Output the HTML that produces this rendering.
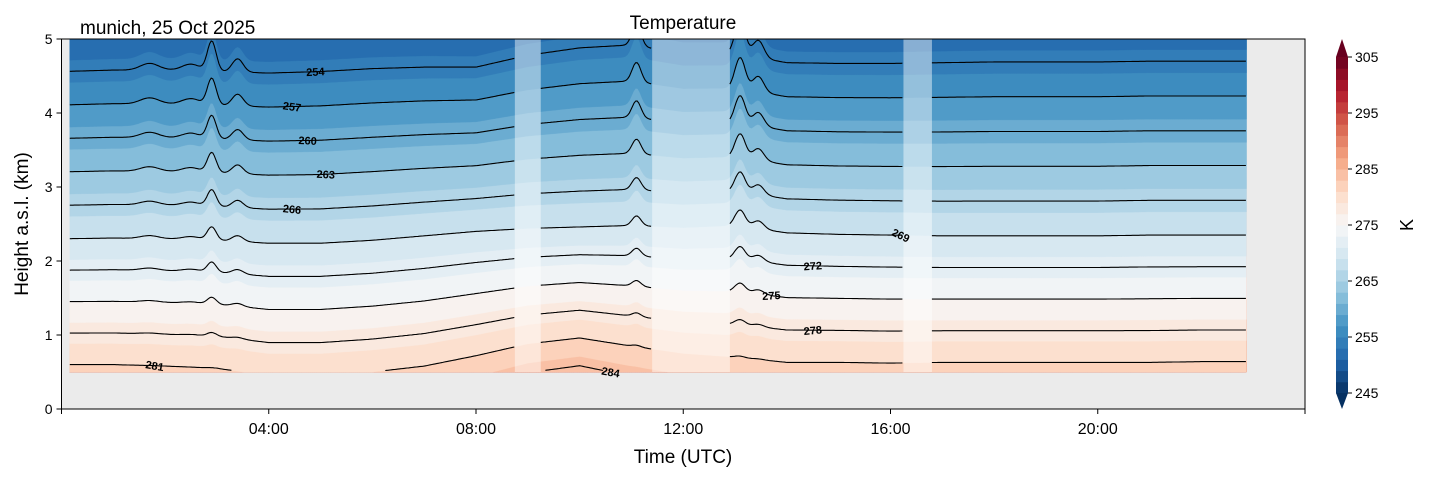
<!DOCTYPE html>
<html><head><meta charset="utf-8">
<style>
body{margin:0;background:#fff;}
svg text{font-family:"Liberation Sans","DejaVu Sans",sans-serif;}
</style></head>
<body>
<svg id="chart" width="1429" height="478" viewBox="0 0 1429 478" xmlns="http://www.w3.org/2000/svg">
<defs><clipPath id="plotclip"><rect x="61.5" y="39" width="1243.5" height="370"/></clipPath></defs>
<rect x="61.5" y="39" width="1243.5" height="370" fill="#ebebeb"/>
<g id="bands" clip-path="url(#plotclip)"></g>
<g id="gaps"></g>
<g id="lines" clip-path="url(#plotclip)" fill="none" stroke="#000" stroke-width="1.1"></g>
<g id="clabels" font-size="11" font-weight="bold" fill="#000"></g>
<rect x="61.5" y="39" width="1243.5" height="370" fill="none" stroke="#000" stroke-width="1"/>
<g id="xaxis" font-size="16"></g>
<g id="yaxis" font-size="14"></g>
<text x="683" y="29" font-size="19" text-anchor="middle">Temperature</text>
<text x="80" y="34" font-size="19">munich, 25 Oct 2025</text>
<text x="683" y="463" font-size="19" text-anchor="middle">Time (UTC)</text>
<text x="28" y="224" font-size="19" text-anchor="middle" transform="rotate(-90 28 224)">Height a.s.l. (km)</text>
<g id="cbar" font-size="14"></g>
<text x="1413" y="225" font-size="18" text-anchor="middle" transform="rotate(-90 1413 225)">K</text>
</svg>
<script>
// ---- data ----
const hours = [0,1,2,3,4,5,6,7,8,9,10,11,12,13,14,15,16,17,18,19,20,21,22,23];
const h281 = [0.6,0.6,0.58,0.55,0.45,0.45,0.5,0.58,0.72,0.88,0.96,0.85,0.75,0.7,0.63,0.63,0.62,0.63,0.63,0.63,0.63,0.63,0.64,0.64];
const h269 = [2.3,2.31,2.3,2.28,2.24,2.24,2.28,2.34,2.4,2.44,2.46,2.48,2.45,2.48,2.38,2.36,2.35,2.34,2.34,2.34,2.34,2.35,2.35,2.35];
const h254 = [4.56,4.58,4.58,4.56,4.54,4.56,4.6,4.62,4.62,4.78,4.88,4.92,4.8,4.8,4.68,4.67,4.67,4.68,4.69,4.69,4.69,4.7,4.7,4.7];
const spikeTimes = [2.9,3.4,11.1,13.1,13.45,1.7,2.5];
const spikeAmps = [0.45,0.2,0.3,0.5,0.25,0.1,0.1];
const spikeWidths = [0.12,0.15,0.12,0.14,0.15,0.25,0.25];
const gapStarts = [8.75,11.4,16.25];
const gapEnds = [9.25,12.9,16.8];
const contourLevels = [251,254,257,260,263,266,269,272,275,278,281,284];
const labelLevels = [254,257,260,263,266,281,284,269,272,275,278];
const labelTimes = [4.9,4.45,4.75,5.1,4.45,1.8,10.6,16.2,14.5,13.7,14.5];
const labelAngles = [-3,8,3,3,6,10,10,25,-4,-3,-5];
const cbarTicks = [245,255,265,275,285,295,305];
const xTickHours = [0,4,8,12,16,20,24];
const xTickLabels = ["","04:00","08:00","12:00","16:00","20:00",""];
const yTicks = [0,1,2,3,4,5];
const tStart = 0.16, tEnd = 22.87, hBottom = 0.5;

// ---- scales ----
const X0=61.5, X1=1305, Y0=409, Y1=39;
const xs = t => X0 + t*(X1-X0)/24;
const ys = h => Y0 - h*(Y0-Y1)/5;
const NS='http://www.w3.org/2000/svg';
function mk(tag, attrs, parent){const e=document.createElementNS(NS,tag);for(const k in attrs)e.setAttribute(k,attrs[k]);parent.appendChild(e);return e;}

const stops=['#053061','#2166ac','#4393c3','#92c5de','#d1e5f0','#f7f7f7','#fddbc7','#f4a582','#d6604d','#b2182b','#67001f'];
function hex(c){return [1,3,5].map(i=>parseInt(c.substr(i,2),16));}
function cmap(v){let f=(v-245)/60;f=Math.max(0,Math.min(1,f));const p=f*10,i=Math.min(9,Math.floor(p)),r=p-i;const a=hex(stops[i]),b=hex(stops[i+1]);return 'rgb('+a.map((x,k)=>Math.round(x+(b[k]-x)*r)).join(',')+')';}

function interp(arr,t){const tt=Math.max(0,Math.min(23,t));const i=Math.min(22,Math.floor(tt));const r=tt-i;return arr[i]+(arr[i+1]-arr[i])*r;}
function spike(t){let s=0;for(let i=0;i<spikeTimes.length;i++){const d=(t-spikeTimes[i])/spikeWidths[i];s+=spikeAmps[i]*Math.exp(-d*d);}return s;}
function levelHeight(L,t){
  const a=interp(h281,t),b=interp(h269,t),c=interp(h254,t);
  let h;
  if(L>=269) h=a+(281-L)/12*(b-a);
  else h=b+(269-L)/15*(c-b);
  h += spike(t)*Math.max(0,(h-0.5))/4.5;
  return h;
}
const dt=0.04;
const ts=[];for(let t=tStart;t<=tEnd+1e-9;t+=dt)ts.push(t);ts[ts.length-1]=tEnd;

const bandsG=document.getElementById('bands');
for(let L=305;L>=245;L-=2){
  let d='M'+xs(tStart)+','+ys(5.2);
  ts.forEach(t=>{const h=Math.max(hBottom,Math.min(5.2,levelHeight(L,t)));d+='L'+xs(t).toFixed(1)+','+ys(h).toFixed(1);});
  d+='L'+xs(tEnd)+','+ys(5.2)+'Z';
  const p=mk('path',{d:d,fill:cmap(L-1),stroke:cmap(L-1),'stroke-width':0.3},bandsG);
  
  
}
const gapsG=document.getElementById('gaps');
gapStarts.forEach((s,i)=>{
  const r=mk('rect',{x:xs(s),y:Y1,width:xs(gapEnds[i])-xs(s),height:ys(hBottom)-Y1,fill:'#fff','fill-opacity':0.45},gapsG);
  
  
});
const segs=[[tStart,gapStarts[0]],[gapEnds[0],gapStarts[1]],[gapEnds[1],gapStarts[2]],[gapEnds[2],tEnd]];
const linesG=document.getElementById('lines');
contourLevels.forEach(L=>{
  segs.forEach(sg=>{
    let d='',pen=false;
    for(let t=sg[0];t<=sg[1]+1e-9;t+=0.03){
      const tt=Math.min(t,sg[1]);const h=levelHeight(L,tt);
      if(h>hBottom+0.02&&h<5.3){d+=(pen?'L':'M')+xs(tt).toFixed(1)+','+ys(h).toFixed(1);pen=true;}else pen=false;
    }
    if(d){const p=mk('path',{d:d},linesG);
      
      }
  });
});
const labG=document.getElementById('clabels');
labelLevels.forEach((L,i)=>{
  const t=labelTimes[i];const x=xs(t),yc=ys(levelHeight(L,t));
  const e=mk('text',{x:x,y:yc+4,'text-anchor':'middle',transform:'rotate('+labelAngles[i]+' '+x+' '+yc+')'},labG);
  e.textContent=L;
  
  
});
const xa=document.getElementById('xaxis');
xTickHours.forEach((hh,i)=>{
  const x=xs(hh);
  const l=mk('line',{x1:x,x2:x,y1:Y0,y2:Y0+5,stroke:'#000'},xa);
  
  
  if(xTickLabels[i]){const t=mk('text',{x:x,y:Y0+25,'text-anchor':'middle'},xa);t.textContent=xTickLabels[i];
    
    }
});
const ya=document.getElementById('yaxis');
yTicks.forEach(v=>{
  const y=ys(v);
  const l=mk('line',{x1:X0-5,x2:X0,y1:y,y2:y,stroke:'#000'},ya);
  
  
  const t=mk('text',{x:X0-9,y:y+5,'text-anchor':'end'},ya);t.textContent=v;
  
  
});
const cb=document.getElementById('cbar');
const CX=1336,CW=12,CT=57,CB=393;
const cy=v=>CB-(v-245)*(CB-CT)/60;
for(let v=245;v<305;v+=2){
  const r=mk('rect',{x:CX,y:cy(v+2),width:CW,height:cy(v)-cy(v+2)+0.5,fill:cmap(v+1)},cb);
  
  
}
const up=mk('polygon',{points:CX+','+CT+' '+(CX+CW)+','+CT+' '+(CX+CW/2)+',39',fill:cmap(306)},cb);


const dn=mk('polygon',{points:CX+','+CB+' '+(CX+CW)+','+CB+' '+(CX+CW/2)+',409',fill:cmap(244)},cb);


cbarTicks.forEach(v=>{
  const y=cy(v);
  const l=mk('line',{x1:CX+CW,x2:CX+CW+4,y1:y,y2:y,stroke:'#000'},cb);
  
  
  const t=mk('text',{x:CX+CW+7,y:y+5},cb);t.textContent=v;
  
  
});
</script>
</body></html>
